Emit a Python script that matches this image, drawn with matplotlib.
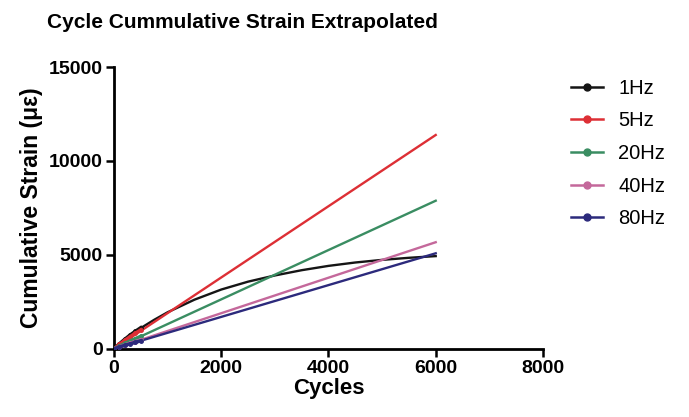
import numpy as np
import matplotlib
matplotlib.use("Agg")
import matplotlib.pyplot as plt

plt.rcParams['font.family'] = ['Liberation Sans', 'DejaVu Sans']

# series labels and colours
labels = ["1Hz", "5Hz", "20Hz", "40Hz", "80Hz"]
colors = ["#151515", "#dd2f35", "#3a8d62", "#c4689b", "#2c2a7c"]

# measured cycles (thick start of each curve)
meas_cycles = [0, 100, 200, 300, 400, 500]
meas_1hz = [0, 260, 500, 730, 930, 1120]
meas_5hz = [0, 230, 440, 640, 830, 1000]
meas_20hz = [0, 140, 280, 410, 540, 660]
meas_40hz = [0, 100, 200, 290, 380, 470]
meas_80hz = [0, 90, 180, 260, 340, 420]

# extrapolated curves
cycles_1hz = [0, 250, 500, 750, 1000, 1500, 2000, 2500, 3000, 3500, 4000, 4500, 5000, 5500, 6000]
strain_1hz = [0, 600, 1100, 1540, 1940, 2610, 3150, 3570, 3900, 4180, 4410, 4590, 4730, 4840, 4930]
cycles_lin = [0, 6000]
strain_5hz = [0, 11380]
strain_20hz = [0, 7880]
strain_40hz = [0, 5670]
strain_80hz = [0, 5080]

meas = [meas_1hz, meas_5hz, meas_20hz, meas_40hz, meas_80hz]
ext = [(cycles_1hz, strain_1hz), (cycles_lin, strain_5hz), (cycles_lin, strain_20hz),
       (cycles_lin, strain_40hz), (cycles_lin, strain_80hz)]

fig = plt.figure(figsize=(6.89, 4.17), dpi=100)
ax = fig.add_axes([0.1655, 0.1638, 0.6225, 0.6755])

for i in range(5):
    x, y = ext[i]
    ax.plot(x, y, color=colors[i], linewidth=1.7, zorder=2 + i * 0.1)
    ax.plot(meas_cycles, meas[i], color=colors[i], linewidth=2.5, marker='o',
            markersize=2.5, zorder=3)

# legend handles: line with a dot
handles = [plt.Line2D([], [], color=c, linewidth=1.8, marker='o', markersize=5) for c in colors]
leg = fig.legend(handles, labels, loc='upper left', bbox_to_anchor=(0.802, 0.855),
                 frameon=False, fontsize=14.5, handlelength=1.6, handletextpad=0.75,
                 labelspacing=0.68)

ax.set_xlim(0, 8000)
ax.set_ylim(0, 15000)
ax.set_xticks([0, 2000, 4000, 6000, 8000])
ax.set_yticks([0, 5000, 10000, 15000])
for s in ['top', 'right']:
    ax.spines[s].set_visible(False)
for s in ['left', 'bottom']:
    ax.spines[s].set_linewidth(2)
ax.tick_params(direction='out', length=6, width=1.8, labelsize=14, pad=2)
for lbl in ax.get_xticklabels() + ax.get_yticklabels():
    lbl.set_fontweight('bold')

ax.set_xlabel("Cycles", fontsize=16, fontweight='bold', labelpad=1)
ax.set_ylabel("Cumulative Strain (\u03bc\u03b5)", fontsize=16.5, fontweight='bold', labelpad=4)
fig.text(0.352, 0.945, "Cycle Cummulative Strain Extrapolated", fontsize=15,
         fontweight='bold', ha='center', va='center')

plt.savefig("out.png", dpi=100)
